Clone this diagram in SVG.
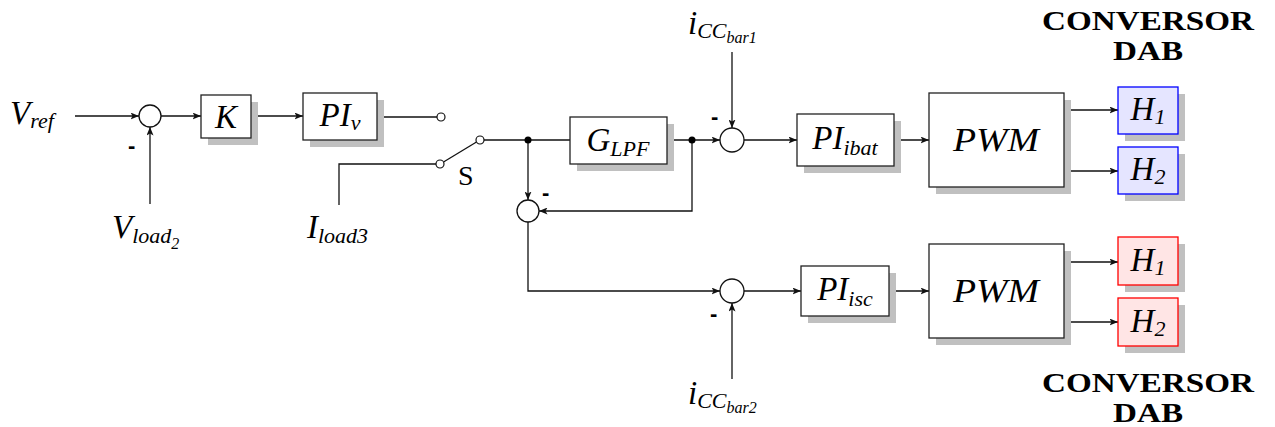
<svg xmlns="http://www.w3.org/2000/svg" width="1275" height="427" viewBox="0 0 1275 427">
  <style>
    .ln { fill: none; stroke: #111; stroke-width: 1.3; }
    .arr { fill: none; stroke: #111; stroke-width: 1.3; marker-end: url(#ah); }
    .box { fill: #fff; stroke: #222; stroke-width: 1.3; }
    .sh { fill: #c0c0c0; stroke: none; }
    .sum { fill: #fff; stroke: #111; stroke-width: 1.3; }
    .port { fill: #fff; stroke: #111; stroke-width: 1.2; }
    .dot { fill: #000; }
    .blue { fill: #e5e5ff; stroke: #0000ff; stroke-width: 1.3; }
    .red { fill: #ffe5e5; stroke: #ff0000; stroke-width: 1.3; }
    .m { font-family: 'Liberation Serif', serif; font-style: italic; font-size: 33px; fill: #000; }
    .s { font-size: 22px; }
    .ss { font-size: 16px; }
    .rm { font-family: 'Liberation Serif', serif; font-size: 28px; fill: #000; }
    .neg { font-family: 'Liberation Sans', sans-serif; font-weight: bold; font-size: 22px; fill: #000; }
    .title { font-family: 'Liberation Serif', serif; font-weight: bold; font-size: 28px; fill: #000; text-anchor: middle; }
  </style>
  <defs>
    <marker id="ah" markerWidth="9" markerHeight="7" refX="8.5" refY="3.5" orient="auto" markerUnits="userSpaceOnUse">
      <path d="M0,0 L8.5,3.5 L0,7 L2,3.5 z" fill="#111"/>
    </marker>
  </defs>

  <!-- connectors -->
  <g id="connectors">
    <line class="arr" x1="75" y1="116" x2="139" y2="116"/>
    <line class="arr" x1="150" y1="204" x2="150" y2="127"/>
    <line class="arr" x1="161" y1="116" x2="201" y2="116"/>
    <line class="arr" x1="251" y1="116" x2="303" y2="116"/>
    <line class="ln" x1="377" y1="117" x2="437" y2="117"/>
    <polyline class="ln" points="339,205 339,164 436,164"/>
    <line class="ln" x1="443.5" y1="162" x2="476.5" y2="142"/>
    <line class="ln" x1="484" y1="140" x2="570" y2="140"/>
    <line class="arr" x1="528" y1="140" x2="528" y2="200"/>
    <line class="arr" x1="667" y1="140" x2="720" y2="140"/>
    <polyline class="arr" points="692,140 692,211 539,211"/>
    <line class="arr" x1="732" y1="52" x2="732" y2="128"/>
    <line class="arr" x1="744" y1="140" x2="797" y2="140"/>
    <line class="arr" x1="894" y1="140" x2="929" y2="140"/>
    <line class="arr" x1="1064" y1="110" x2="1118" y2="110"/>
    <line class="arr" x1="1064" y1="171" x2="1118" y2="171"/>
    <polyline class="arr" points="528,222 528,291 720,291"/>
    <line class="arr" x1="732" y1="379" x2="732" y2="303"/>
    <line class="arr" x1="744" y1="291" x2="801" y2="291"/>
    <line class="arr" x1="889" y1="291" x2="929" y2="291"/>
    <line class="arr" x1="1064" y1="262" x2="1118" y2="262"/>
    <line class="arr" x1="1064" y1="322" x2="1118" y2="322"/>
    <circle class="dot" cx="528" cy="140" r="3.5"/>
    <circle class="dot" cx="692" cy="140" r="3.5"/>
  </g>

  <!-- inputs -->
  <g id="in-vref">
    <text class="m" x="10" y="124">V<tspan class="s" dy="4">ref</tspan></text>
  </g>
  <g id="in-vload">
    <text class="m" x="112" y="238">V<tspan class="s" dy="5">load</tspan><tspan class="ss" dy="6">2</tspan></text>
  </g>
  <g id="in-iload">
    <text class="m" x="307" y="238">I<tspan class="s" dy="5">load3</tspan></text>
  </g>
  <g id="in-icc1">
    <text class="m" x="688" y="34">i<tspan class="s" dy="4">CC</tspan><tspan class="ss" dy="5">bar1</tspan></text>
  </g>
  <g id="in-icc2">
    <text class="m" x="688" y="404">i<tspan class="s" dy="4">CC</tspan><tspan class="ss" dy="5">bar2</tspan></text>
  </g>

  <!-- summing junctions -->
  <g id="sum1">
    <circle class="sum" cx="150" cy="116" r="11"/>
    <text class="neg" x="128" y="153">-</text>
  </g>
  <g id="sum-lpf">
    <circle class="sum" cx="528" cy="211" r="11"/>
    <text class="neg" x="542" y="200">-</text>
  </g>
  <g id="sum-bat">
    <circle class="sum" cx="732" cy="140" r="12"/>
    <text class="neg" x="711" y="124">-</text>
  </g>
  <g id="sum-sc">
    <circle class="sum" cx="732" cy="291" r="12"/>
    <text class="neg" x="710" y="321">-</text>
  </g>

  <!-- switch -->
  <g id="switch">
    <circle class="port" cx="441" cy="117" r="4"/>
    <circle class="port" cx="440" cy="164" r="4"/>
    <circle class="port" cx="480" cy="140" r="4"/>
    <text class="rm" x="458" y="185">S</text>
  </g>

  <!-- blocks -->
  <g id="blk-k">
    <rect class="sh" x="208" y="102" width="50" height="43"/>
    <rect class="box" x="201" y="95" width="50" height="43"/>
    <text class="m" x="226" y="128" text-anchor="middle">K</text>
  </g>
  <g id="blk-piv">
    <rect class="sh" x="310" y="100" width="74" height="47"/>
    <rect class="box" x="303" y="93" width="74" height="47"/>
    <text class="m" x="340" y="126" text-anchor="middle">PI<tspan class="s" dy="4">v</tspan></text>
  </g>
  <g id="blk-glpf">
    <rect class="sh" x="577" y="124" width="97" height="47"/>
    <rect class="box" x="570" y="117" width="97" height="47"/>
    <text class="m" x="618" y="151" text-anchor="middle">G<tspan class="s" dy="5">LPF</tspan></text>
  </g>
  <g id="blk-pibat">
    <rect class="sh" x="804" y="121" width="97" height="52"/>
    <rect class="box" x="797" y="114" width="97" height="52"/>
    <text class="m" x="845" y="149" text-anchor="middle">PI<tspan class="s" dy="6">ibat</tspan></text>
  </g>
  <g id="blk-pisc">
    <rect class="sh" x="808" y="273" width="88" height="50"/>
    <rect class="box" x="801" y="266" width="88" height="50"/>
    <text class="m" x="845" y="300" text-anchor="middle">PI<tspan class="s" dy="6">isc</tspan></text>
  </g>
  <g id="blk-pwm1">
    <rect class="sh" x="936" y="100" width="135" height="94"/>
    <rect class="box" x="929" y="93" width="135" height="94"/>
    <text class="m" x="996" y="151" text-anchor="middle" textLength="86" lengthAdjust="spacingAndGlyphs">PWM</text>
  </g>
  <g id="blk-pwm2">
    <rect class="sh" x="936" y="251" width="135" height="94"/>
    <rect class="box" x="929" y="244" width="135" height="94"/>
    <text class="m" x="996" y="302" text-anchor="middle" textLength="86" lengthAdjust="spacingAndGlyphs">PWM</text>
  </g>

  <!-- gate outputs, battery converter -->
  <g id="h1-bat">
    <rect class="sh" x="1125" y="94" width="60" height="47"/>
    <rect class="blue" x="1118" y="87" width="60" height="47"/>
    <text class="m" x="1148" y="120" text-anchor="middle">H<tspan class="s" dy="4">1</tspan></text>
  </g>
  <g id="h2-bat">
    <rect class="sh" x="1125" y="154" width="60" height="47"/>
    <rect class="blue" x="1118" y="147" width="60" height="47"/>
    <text class="m" x="1148" y="180" text-anchor="middle">H<tspan class="s" dy="4">2</tspan></text>
  </g>
  <!-- gate outputs, supercapacitor converter -->
  <g id="h1-sc">
    <rect class="sh" x="1125" y="244" width="60" height="48"/>
    <rect class="red" x="1118" y="237" width="60" height="48"/>
    <text class="m" x="1148" y="271" text-anchor="middle">H<tspan class="s" dy="4">1</tspan></text>
  </g>
  <g id="h2-sc">
    <rect class="sh" x="1125" y="305" width="60" height="48"/>
    <rect class="red" x="1118" y="298" width="60" height="48"/>
    <text class="m" x="1148" y="332" text-anchor="middle">H<tspan class="s" dy="4">2</tspan></text>
  </g>

  <g id="label-top">
    <text class="title" x="1148" y="30" textLength="212" lengthAdjust="spacingAndGlyphs">CONVERSOR</text>
    <text class="title" x="1148" y="60" textLength="70" lengthAdjust="spacingAndGlyphs">DAB</text>
  </g>
  <g id="label-bottom">
    <text class="title" x="1148" y="392" textLength="212" lengthAdjust="spacingAndGlyphs">CONVERSOR</text>
    <text class="title" x="1148" y="422" textLength="70" lengthAdjust="spacingAndGlyphs">DAB</text>
  </g>
</svg>
